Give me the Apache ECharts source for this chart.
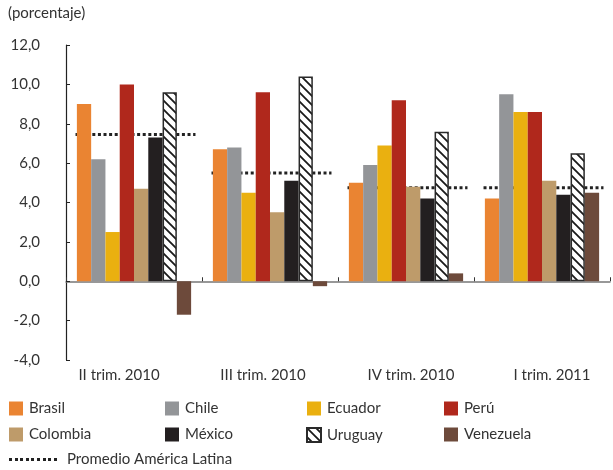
<!DOCTYPE html>
<html>
<head>
<meta charset="utf-8">
<script src="https://cdn.jsdelivr.net/npm/echarts@6/dist/echarts.min.js"></script>
<style>
html,body{margin:0;padding:0;background:#fff;}
#c{width:613px;height:470px;}
</style>
</head>
<body>
<div id="c"></div>
<script>
// ---- data ----
var categories = ['II trim. 2010', 'III trim. 2010', 'IV trim. 2010', 'I trim. 2011'];
var brasil    = [9.0, 6.7, 5.0, 4.2];
var chile     = [6.2, 6.8, 5.9, 9.5];
var ecuador   = [2.5, 4.5, 6.9, 8.6];
var peru      = [10.0, 9.6, 9.2, 8.6];
var colombia  = [4.7, 3.5, 4.8, 5.1];
var mexico    = [7.3, 5.1, 4.2, 4.4];
var uruguay   = [9.6, 10.4, 7.6, 6.5];
var venezuela = [-1.7, -0.25, 0.4, 4.5];
var promedio  = [7.45, 5.5, 4.75, 4.75];
var yTicks = { min: -4, max: 12, interval: 2 };

// ---- styles ----
var FONT = 'Lato';
var TXT = '#333333';

function stripePattern() {
  var s = 9, c = document.createElement('canvas');
  c.width = s; c.height = s;
  var g = c.getContext('2d');
  g.fillStyle = '#ffffff'; g.fillRect(0, 0, s, s);
  g.strokeStyle = '#1a1a1a'; g.lineWidth = 1.8;
  g.beginPath();
  g.moveTo(-1, -1); g.lineTo(s + 1, s + 1);
  g.moveTo(-1, s - 1); g.lineTo(1, s + 1);
  g.moveTo(s - 1, -1); g.lineTo(s + 1, 1);
  g.stroke();
  return c;
}
function dotIcon() {
  var c = document.createElement('canvas');
  c.width = 50; c.height = 3;
  var g = c.getContext('2d');
  g.fillStyle = '#222';
  for (var x = 0; x < 50; x += 5.6) g.fillRect(Math.round(x), 0, 3, 3);
  return c.toDataURL();
}

var seriesDefs = [
  { name: 'Brasil', data: brasil, color: '#EA8432' },
  { name: 'Chile', data: chile, color: '#939598' },
  { name: 'Ecuador', data: ecuador, color: '#EAB010' },
  { name: 'Perú', data: peru, color: '#B0281C' },
  { name: 'Colombia', data: colombia, color: '#BE9B6A' },
  { name: 'México', data: mexico, color: '#231F20' },
  { name: 'Uruguay', data: uruguay, color: { image: stripePattern(), repeat: 'repeat' }, border: true },
  { name: 'Venezuela', data: venezuela, color: '#6D4A3B' }
];

var series = seriesDefs.map(function (d) {
  var st = { color: d.color };
  if (d.border) { st.borderColor = '#2a2a2a'; st.borderWidth = 1.5; }
  return {
    name: d.name, type: 'bar', xAxisIndex: 0, yAxisIndex: 0,
    data: d.data, barGap: '0%', barCategoryGap: '16%',
    itemStyle: st, silent: true
  };
});

series.push({
  name: 'Promedio América Latina',
  type: 'custom',
  xAxisIndex: 0, yAxisIndex: 0,
  data: promedio.map(function (v, i) { return [i, v]; }),
  encode: { x: 0, y: 1 },
  itemStyle: { color: '#222' },
  renderItem: function (params, api) {
    var p = api.coord([api.value(0), api.value(1)]);
    var bw = api.size([1, 0])[0];
    var half = bw * 0.43;
    return {
      type: 'line',
      shape: { x1: p[0] - half, y1: p[1], x2: p[0] + half + 3, y2: p[1] },
      style: { stroke: '#222', lineWidth: 3, lineDash: [3, 2.6] }
    };
  }
});

var labelShift = [-15, -7, 5, 10];

var legendCols = [['Brasil', 'Colombia'], ['Chile', 'México'], ['Ecuador', 'Uruguay'], ['Perú', 'Venezuela']];
var legendLeft = [9, 165, 306, 444];
var legends = legendCols.map(function (col, i) {
  return {
    orient: 'vertical', left: legendLeft[i], top: 401,
    itemWidth: 14, itemHeight: 14, itemGap: 11, icon: 'rect',
    padding: 0, selectedMode: false,
    textStyle: { fontFamily: FONT, fontSize: 15, color: TXT, padding: [0, 0, 0, 1] },
    data: col
  };
});
legends.push({
  left: 9, top: 452, itemWidth: 50, itemHeight: 3, padding: 0, selectedMode: false,
  textStyle: { fontFamily: FONT, fontSize: 15, color: TXT, padding: [0, 0, 0, 3] },
  data: [{ name: 'Promedio América Latina', icon: 'image://' + dotIcon() }]
});

var option = {
  animation: false,
  backgroundColor: '#fff',
  title: {
    text: '(porcentaje)', left: 8, top: 6, padding: 0,
    textStyle: { fontFamily: FONT, fontSize: 15, fontWeight: 'normal', color: TXT }
  },
  legend: legends,
  grid: { left: 66, top: 45, right: 3, bottom: 110, containLabel: false },
  xAxis: [
    {
      type: 'category', data: categories, position: 'bottom',
      axisLine: { onZero: true, lineStyle: { color: '#777', width: 1.5 } },
      axisTick: { show: true, inside: true, length: 4, lineStyle: { color: '#333' } },
      axisLabel: { show: false }, splitLine: { show: false }
    },
    {
      type: 'category', data: categories, position: 'bottom',
      axisLine: { show: false, onZero: false }, axisTick: { show: false }, splitLine: { show: false },
      axisLabel: {
        margin: 8, fontFamily: FONT, fontSize: 15, color: TXT
      }
    }
  ],
  yAxis: {
    type: 'value', min: yTicks.min, max: yTicks.max, interval: yTicks.interval,
    axisLine: { show: true, onZero: false, lineStyle: { color: '#222', width: 1.2 } },
    axisTick: { show: true, inside: true, length: 4, lineStyle: { color: '#222' } },
    splitLine: { show: false },
    axisLabel: {
      margin: 26, fontFamily: FONT, fontSize: 15, color: TXT,
      formatter: function (v) { return v.toFixed(1).replace('.', ','); }
    }
  },
  series: series
};

// apply per-label horizontal shift on the label axis
option.xAxis[1].data = categories.map(function (c, i) {
  var s = labelShift[i];
  return { value: c, textStyle: { padding: s < 0 ? [0, -2 * s, 0, 0] : [0, 0, 0, 2 * s] } };
});

var chart = echarts.init(document.getElementById('c'), null, { renderer: 'canvas' });
chart.setOption(option);
</script>
</body>
</html>
